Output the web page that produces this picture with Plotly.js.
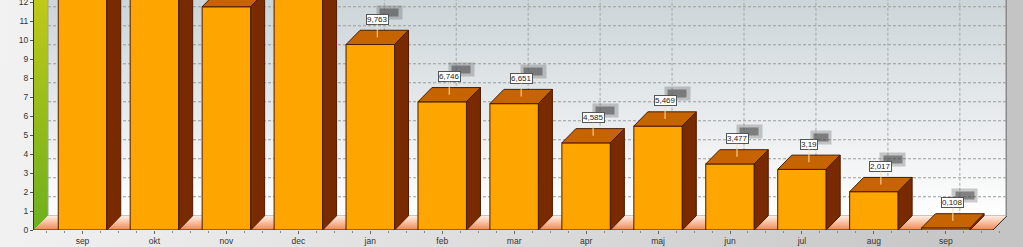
<!DOCTYPE html>
<html>
<head>
<meta charset="utf-8">
<script src="https://cdn.plot.ly/plotly-3.0.1.min.js"></script>
<style>
  html, body { margin: 0; padding: 0; }
  #chart { width: 1023px; height: 247px;
    background: linear-gradient(95deg, #f2f2f2 0%, #dadada 55%, #c3c3c3 100%); }
</style>
</head>
<body>
<div id="chart"></div>
<script>
// ---- data ----
const months = ['sep','okt','nov','dec','jan','feb','mar','apr','maj','jun','jul','aug','sep'];
const values = [14.2, 13.6, 11.75, 13.1, 9.763, 6.746, 6.651, 4.585, 5.469, 3.477, 3.19, 2.017, 0.108];
const yTicks = [0,1,2,3,4,5,6,7,8,9,10,11,12];

// ---- geometry (axis units) ----
const X0 = -0.674, XR = 12.655, XMAX = 12.85, YMAX = 12.105;
const DX = 0.1946, DY = 0.75, W = 0.674, YTOP = 16;
const FONT = 'Liberation Sans, Arial, sans-serif';

const traces = [];
function poly(x, y, opts) {
  return Object.assign({type:'scatter', mode:'lines', x, y, fill:'toself', hoverinfo:'skip', showlegend:false}, opts);
}
function line(x, y, color, width, dash) {
  return {type:'scatter', mode:'lines', x, y, hoverinfo:'skip', showlegend:false,
          line:{color, width, dash: dash || 'solid'}};
}

// back wall
traces.push(poly([X0+DX, XMAX, XMAX, X0+DX], [DY, DY, YTOP, YTOP], {
  line:{width:0}, fillcolor:'#e8ecee',
  fillgradient:{type:'vertical', start:DY, stop:YMAX,
    colorscale:[[0,'#ffffff'],[0.3,'#f0f2f3'],[1,'#ccd5d9']]}
}));
// grid lines on back wall
const gx = [], gy = [];
yTicks.slice(1).forEach(k => { gx.push(X0+DX, XMAX, null); gy.push(k+DY, k+DY, null); });
traces.push(line(gx, gy, '#9c9c9c', 1, '3px,2px'));
const vx = [], vy = [];
values.forEach((v, i) => { vx.push(i+DX, i+DX, null); vy.push(DY, YTOP, null); });
traces.push(line(vx, vy, '#a8a8a8', 1, '3px,2px'));
// left wall
traces.push(poly([X0, X0+DX, X0+DX, X0], [0, DY, YTOP, YTOP], {
  line:{width:0}, fillcolor:'#9ac020',
  fillgradient:{type:'vertical', start:0, stop:YMAX,
    colorscale:[[0,'#6cb01e'],[1,'#c0c918']]}
}));
traces.push(line([X0+DX, X0+DX, XMAX], [YTOP, DY, DY], '#a0a0a0', 1));
// floor
traces.push(poly([X0, XR, XMAX, X0+DX], [0, 0, DY, DY], {
  line:{width:0}, fillcolor:'#f8b890',
  fillgradient:{type:'vertical', start:0, stop:DY,
    colorscale:[[0,'#f08850'],[1,'#fff0e6']]}
}));
traces.push(line([X0, XR, XMAX], [0, 0, DY], '#222222', 1));
traces.push(line([XMAX, XMAX], [DY, YTOP], '#8a8a8a', 3));

// bars (front, top, side)
const fx=[], fy=[], tx=[], ty=[], sx=[], sy=[];
values.forEach((v, i) => {
  const a = i - W/2, b = i + W/2;
  fx.push(a, b, b, a, a, null); fy.push(0, 0, v, v, 0, null);
  tx.push(a, b, b+DX, a+DX, a, null); ty.push(v, v, v+DY, v+DY, v, null);
  sx.push(b, b+DX, b+DX, b, b, null); sy.push(0, DY, v+DY, v, 0, null);
});
const edge = {color:'#4a1c00', width:1};
traces.push(poly(fx, fy, {fillcolor:'#ffa500', line:edge}));
traces.push(poly(tx, ty, {fillcolor:'#c56400', line:edge}));
traces.push(poly(sx, sy, {fillcolor:'#7a2a00', line:edge}));

// value labels
const annotations = [];
values.forEach((v, i) => {
  const ya = v + DY/2;
  if (ya > YMAX - 0.2) return;
  const txt = String(v).replace('.', ',');
  annotations.push({x:i+DX/2, y:ya, xref:'x', yref:'y', text:txt, showarrow:false,
    xshift:12, yshift:25, bgcolor:'rgba(90,90,90,0.3)', borderpad:2,
    font:{family:FONT, size:8, color:'rgba(0,0,0,0)'}});
  annotations.push({x:i+DX/2, y:ya, xref:'x', yref:'y', text:txt, showarrow:false,
    xshift:12, yshift:25, bgcolor:'rgba(70,70,70,0.55)', borderpad:0,
    font:{family:FONT, size:7, color:'rgba(0,0,0,0)'}});
  annotations.push({x:i+DX/2, y:ya, xref:'x', yref:'y', text:txt, showarrow:true,
    arrowhead:0, arrowwidth:1, arrowcolor:'#ffe0a8', ax:0, ay:-18, standoff:0,
    bgcolor:'#ffffff', bordercolor:'#555555', borderwidth:1, borderpad:0,
    font:{family:FONT, size:8, color:'#222222'}});
});

const layout = {
  width:1023, height:247,
  margin:{l:34, r:16, t:0, b:17, pad:0},
  paper_bgcolor:'rgba(0,0,0,0)', plot_bgcolor:'rgba(0,0,0,0)',
  showlegend:false, hovermode:false,
  font:{family:FONT, size:8.5, color:'#333333'},
  xaxis:{range:[X0, XMAX], showgrid:false, zeroline:false, showline:false,
    tickmode:'array', tickvals:months.map((m,i)=>i), ticktext:months,
    ticks:'outside', ticklen:3, tickcolor:'#666', tickfont:{family:FONT, size:8.5, color:'#333'},
    minor:{dtick:0.25, tick0:0, ticks:'outside', ticklen:2, tickcolor:'#888', showgrid:false}},
  yaxis:{range:[0, YMAX], showgrid:false, zeroline:false, showline:true, linecolor:'#333333', linewidth:1,
    tickmode:'array', tickvals:yTicks, ticktext:yTicks.map(String), ticklabeloverflow:'allow',
    ticks:'outside', ticklen:3, tickcolor:'#555', tickfont:{family:FONT, size:8.5, color:'#333'}},
  annotations
};

Plotly.newPlot('chart', traces, layout, {staticPlot:true, displayModeBar:false});
</script>
</body>
</html>
